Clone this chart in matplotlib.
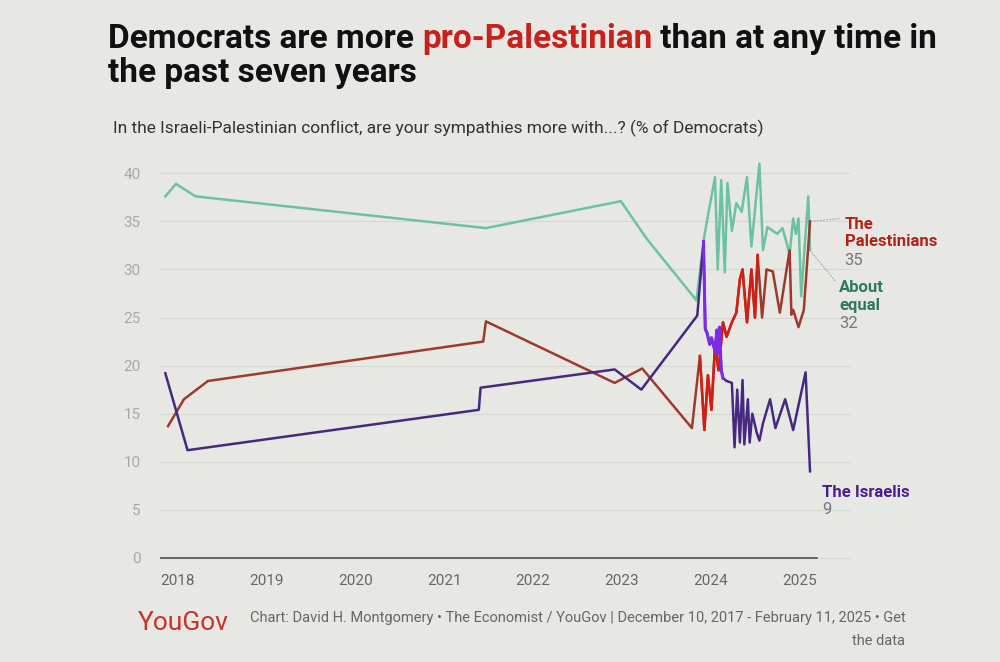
import matplotlib
matplotlib.use("Agg")
import matplotlib.pyplot as plt
import numpy as np

# values (decimal years, % of Democrats)
equal_x = [2017.86, 2017.98, 2018.20, 2021.47, 2022.99, 2023.28, 2023.84, 2023.93, 2023.99,
           2024.05, 2024.08, 2024.12, 2024.16, 2024.19, 2024.24, 2024.29, 2024.35, 2024.41,
           2024.46, 2024.55, 2024.59, 2024.64, 2024.75, 2024.81, 2024.89, 2024.93, 2024.96,
           2024.99, 2025.02, 2025.10, 2025.12]
equal_y = [37.6, 38.9, 37.6, 34.3, 37.1, 33.2, 26.8, 33.5, 36.6,
           39.6, 30.0, 39.3, 29.7, 39.0, 34.0, 36.9, 36.0, 39.6,
           32.4, 41.0, 32.0, 34.4, 33.7, 34.3, 31.6, 35.3, 33.7,
           35.3, 27.2, 37.6, 32.0]

pal_x = [2017.89, 2018.07, 2018.34, 2021.44, 2021.47, 2022.92, 2023.23, 2023.79, 2023.88,
         2023.93, 2023.97, 2024.01, 2024.05, 2024.09, 2024.14, 2024.18, 2024.24, 2024.29,
         2024.33, 2024.36, 2024.41, 2024.46, 2024.50, 2024.53, 2024.58, 2024.63, 2024.70,
         2024.78, 2024.89, 2024.91, 2024.93, 2024.99, 2025.05, 2025.12]
pal_y = [13.7, 16.5, 18.4, 22.5, 24.6, 18.2, 19.7, 13.5, 21.0,
         13.3, 19.0, 15.4, 22.1, 19.5, 24.5, 23.0, 24.5, 25.5,
         29.0, 30.0, 24.5, 30.0, 25.0, 31.5, 25.0, 30.0, 29.8,
         25.5, 32.0, 25.3, 25.8, 24.0, 25.8, 35.0]

isr_x = [2017.86, 2018.11, 2021.39, 2021.41, 2022.92, 2023.22, 2023.85, 2023.92, 2023.94,
         2023.96, 2023.99, 2024.01, 2024.05, 2024.07, 2024.08, 2024.10, 2024.12, 2024.14,
         2024.18, 2024.24, 2024.27, 2024.30, 2024.33, 2024.36, 2024.38, 2024.42, 2024.44,
         2024.47, 2024.52, 2024.55, 2024.59, 2024.67, 2024.73, 2024.84, 2024.93, 2025.07,
         2025.12]
isr_y = [19.2, 11.2, 15.4, 17.7, 19.6, 17.5, 25.2, 32.9, 23.8,
         23.4, 22.2, 22.9, 21.5, 23.7, 21.2, 24.0, 19.5, 18.7,
         18.4, 18.2, 11.5, 17.5, 12.0, 18.5, 11.8, 16.5, 12.0,
         15.0, 13.0, 12.2, 14.0, 16.5, 13.5, 16.5, 13.3, 19.3,
         9.0]

years = [2018, 2019, 2020, 2021, 2022, 2023, 2024, 2025]
yticks = [0, 5, 10, 15, 20, 25, 30, 35, 40]

BG = "#e7e8e4"
TEAL = "#6cc2a2"
RED_DARK = "#9c3a2e"
RED = "#d11f14"
PUR_DARK = "#46297e"
PUR = "#7b2ce6"

plt.rcParams['font.family'] = ['Roboto', 'DejaVu Sans']

fig = plt.figure(figsize=(10, 6.62), dpi=100, facecolor=BG)
ax = fig.add_axes([0.16, 0.150, 0.69, 0.610])
ax.set_facecolor(BG)

ax.plot(equal_x, equal_y, color=TEAL, lw=1.8)
ax.plot(pal_x, pal_y, color=RED_DARK, lw=1.8)
ax.plot(isr_x, isr_y, color=PUR_DARK, lw=1.8)

# brighter stretch in the weekly data of early 2024
px, py = np.array(pal_x), np.array(pal_y)
m = (px >= 2023.86) & (px <= 2024.55)
ax.plot(px[m], py[m], color=RED, lw=1.8)
ix, iy = np.array(isr_x), np.array(isr_y)
m = (ix >= 2023.91) & (ix <= 2024.16)
ax.plot(ix[m], iy[m], color=PUR, lw=2.2)

ax.set_xlim(2017.80, 2025.57)
ax.set_ylim(-0.5, 41.5)
ax.set_yticks(yticks)
ax.set_yticklabels([str(v) for v in yticks], fontsize=11, color="#a8a8a8")
ax.set_xticks(years)
ax.set_xticklabels([str(v) for v in years], fontsize=11, color="#666666")
ax.tick_params(length=0)
ax.tick_params(axis="y", pad=14)
ax.tick_params(axis="x", pad=8)
for s in ax.spines.values():
    s.set_visible(False)
ax.grid(axis="y", color="#d6d6d3", lw=0.8)
ax.grid(axis="x", visible=False)
ax.axhline(0, xmin=0, xmax=0.952, color="#5a5a5a", lw=1.3)

# end labels
lab = dict(fontsize=12, fontweight="bold", va="center", ha="left")
num = dict(fontsize=12, color="#777777", va="center", ha="left")
ax.text(2025.51, 34.7, "The", color="#b3221a", **lab)
ax.text(2025.51, 32.9, "Palestinians", color="#b3221a", **lab)
ax.text(2025.51, 30.9, "35", **num)
ax.text(2025.45, 28.1, "About", color="#2f7a5a", **lab)
ax.text(2025.45, 26.3, "equal", color="#2f7a5a", **lab)
ax.text(2025.45, 24.4, "32", **num)
ax.text(2025.26, 6.75, "The Israelis", color="#4a1d8c", **lab)
ax.text(2025.26, 5.0, "9", **num)
ax.annotate("", xy=(pal_x[-1], pal_y[-1]), xytext=(2025.48, 35.3),
            arrowprops=dict(arrowstyle="-", color="#aaaaaa", lw=0.8, linestyle=":"))
ax.annotate("", xy=(equal_x[-1], equal_y[-1]), xytext=(2025.42, 28.6),
            arrowprops=dict(arrowstyle="-", color="#aaaaaa", lw=0.8, linestyle=":"))

# title with coloured phrase
r = fig.canvas.get_renderer()
tfont = dict(fontsize=24, fontweight="bold", family=['Roboto', 'DejaVu Sans'])
t1 = fig.text(0.108, 0.9275, "Democrats are more ", color="#111111", va="baseline", **tfont)
x = t1.get_window_extent(r).x1 / fig.bbox.width
t2 = fig.text(x, 0.9275, "pro-Palestinian", color="#c8201a", va="baseline", **tfont)
x = t2.get_window_extent(r).x1 / fig.bbox.width
fig.text(x, 0.9275, " than at any time in", color="#111111", va="baseline", **tfont)
fig.text(0.108, 0.876, "the past seven years", color="#111111", va="baseline", **tfont)

fig.text(0.113, 0.799,
         "In the Israeli-Palestinian conflict, are your sympathies more with...? (% of Democrats)",
         fontsize=12.5, color="#333333", va="baseline")

fig.text(0.138, 0.048, "YouGov", fontsize=19, color="#c8322a", va="baseline")
fig.text(0.250, 0.060,
         "Chart: David H. Montgomery \u2022 The Economist / YouGov | December 10, 2017 - February 11, 2025 \u2022 Get",
         fontsize=10.5, color="#666666", va="baseline")
fig.text(0.905, 0.026, "the data", fontsize=10.5, color="#666666", va="baseline", ha="right")

fig.savefig("out.png", dpi=100, facecolor=BG)
